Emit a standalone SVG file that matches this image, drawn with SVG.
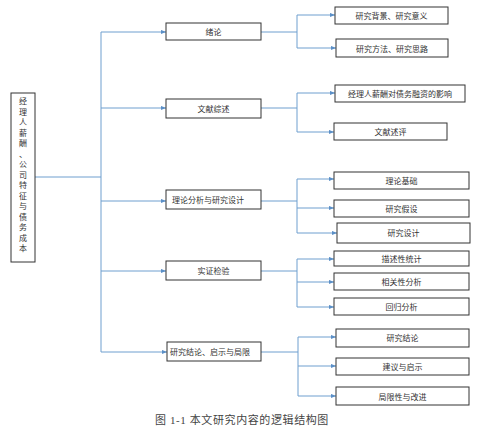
<svg xmlns="http://www.w3.org/2000/svg" width="484" height="432" viewBox="0 0 484 432">
<style>
.box{fill:#fff;stroke:#333;stroke-width:1}
.t{font-family:"Noto Sans CJK SC","Noto Sans",sans-serif;font-size:8px;fill:#333;text-anchor:middle;dominant-baseline:central}
.ln{fill:none;stroke:#6f9fcf;stroke-width:1}
.cap{font-family:"Liberation Serif","Noto Sans CJK SC",serif;font-size:11px;fill:#444;letter-spacing:0.6px}
</style>
<defs>
<marker id="ah" viewBox="0 0 6 6" refX="6" refY="3" markerWidth="5" markerHeight="5" orient="auto">
<path d="M0,0.5 L6,3 L0,5.5 z" fill="#5b8fc7"/>
</marker>
</defs>
<rect width="484" height="432" fill="#fff"/>
<g id="connectors">
<path class="ln" d="M35,177 H101 M101,32 V352"/>
<path class="ln" d="M101,32 H166" marker-end="url(#ah)"/>
<path class="ln" d="M101,108 H166" marker-end="url(#ah)"/>
<path class="ln" d="M101,201 H166" marker-end="url(#ah)"/>
<path class="ln" d="M101,271 H166" marker-end="url(#ah)"/>
<path class="ln" d="M101,352 H167" marker-end="url(#ah)"/>
<path class="ln" d="M261,32 H297 M297,15 V48 M261,108 H297 M297,93 V132 M261,201 H297 M297,179 V233 M261,271 H297 M297,259 V307 M261,352 H298 M298,337 V396"/>
<path class="ln" d="M297,15 H335" marker-end="url(#ah)"/>
<path class="ln" d="M297,48 H336" marker-end="url(#ah)"/>
<path class="ln" d="M297,93 H335" marker-end="url(#ah)"/>
<path class="ln" d="M297,132 H334" marker-end="url(#ah)"/>
<path class="ln" d="M297,179 H334" marker-end="url(#ah)"/>
<path class="ln" d="M297,208 H334" marker-end="url(#ah)"/>
<path class="ln" d="M297,233 H337" marker-end="url(#ah)"/>
<path class="ln" d="M297,259 H334" marker-end="url(#ah)"/>
<path class="ln" d="M297,282 H334" marker-end="url(#ah)"/>
<path class="ln" d="M297,307 H334" marker-end="url(#ah)"/>
<path class="ln" d="M298,337 H336" marker-end="url(#ah)"/>
<path class="ln" d="M298,366 H336" marker-end="url(#ah)"/>
<path class="ln" d="M298,396 H336" marker-end="url(#ah)"/>
</g>
<g id="root">
<rect class="box" x="11" y="93" width="24" height="169"/>
<text class="t" font-size="9" x="23"><tspan x="23" y="100">经</tspan><tspan x="23" y="110.5">理</tspan><tspan x="23" y="121">人</tspan><tspan x="23" y="131.5">薪</tspan><tspan x="23" y="142">酬</tspan><tspan x="23" y="152.5">、</tspan><tspan x="23" y="163">公</tspan><tspan x="23" y="173.5">司</tspan><tspan x="23" y="184">特</tspan><tspan x="23" y="194.5">征</tspan><tspan x="23" y="205">与</tspan><tspan x="23" y="215.5">债</tspan><tspan x="23" y="226">务</tspan><tspan x="23" y="236.5">成</tspan><tspan x="23" y="247">本</tspan></text>
</g>
<g id="n1"><rect class="box" x="166" y="23" width="95" height="17"/><text class="t" x="213.5" y="31.5">绪论</text></g>
<g id="n2"><rect class="box" x="166" y="99" width="95" height="19"/><text class="t" x="213.5" y="108.5">文献综述</text></g>
<g id="n3"><rect class="box" x="166" y="190" width="95" height="19"/><text class="t" x="208" y="199.5">理论分析与研究设计</text></g>
<g id="n4"><rect class="box" x="166" y="261" width="95" height="19"/><text class="t" x="213.5" y="270.5">实证检验</text></g>
<g id="n5"><rect class="box" x="167" y="342" width="94" height="19"/><text class="t" x="210" y="351.5">研究结论、启示与局限</text></g>
<g id="n1a"><rect class="box" x="335" y="7" width="113" height="17"/><text class="t" x="391.5" y="15.5">研究背景、研究意义</text></g>
<g id="n1b"><rect class="box" x="336" y="39" width="112" height="18"/><text class="t" x="392" y="48">研究方法、研究思路</text></g>
<g id="n2a"><rect class="box" x="335" y="85" width="130" height="17"/><text class="t" x="400" y="93.5">经理人薪酬对债务融资的影响</text></g>
<g id="n2b"><rect class="box" x="334" y="123" width="113" height="17"/><text class="t" x="390.5" y="131.5">文献述评</text></g>
<g id="n3a"><rect class="box" x="334" y="172" width="135" height="17"/><text class="t" x="401.5" y="180.5">理论基础</text></g>
<g id="n3b"><rect class="box" x="334" y="200" width="135" height="17"/><text class="t" x="401.5" y="208.5">研究假设</text></g>
<g id="n3c"><rect class="box" x="337" y="223" width="133" height="20"/><text class="t" x="403.5" y="232">研究设计</text></g>
<g id="n4a"><rect class="box" x="334" y="251" width="135" height="15"/><text class="t" x="401.5" y="258.5">描述性统计</text></g>
<g id="n4b"><rect class="box" x="334" y="273" width="135" height="17"/><text class="t" x="401.5" y="281.5">相关性分析</text></g>
<g id="n4c"><rect class="box" x="334" y="298" width="135" height="17"/><text class="t" x="401.5" y="306.5">回归分析</text></g>
<g id="n5a"><rect class="box" x="336" y="329" width="133" height="18"/><text class="t" x="402.5" y="337.5">研究结论</text></g>
<g id="n5b"><rect class="box" x="336" y="358" width="133" height="17"/><text class="t" x="402.5" y="366.5">建议与启示</text></g>
<g id="n5c"><rect class="box" x="336" y="387" width="133" height="18"/><text class="t" x="402.5" y="396">局限性与改进</text></g>
<text class="cap" x="155" y="424">图 1-1  本文研究内容的逻辑结构图</text>
</svg>
